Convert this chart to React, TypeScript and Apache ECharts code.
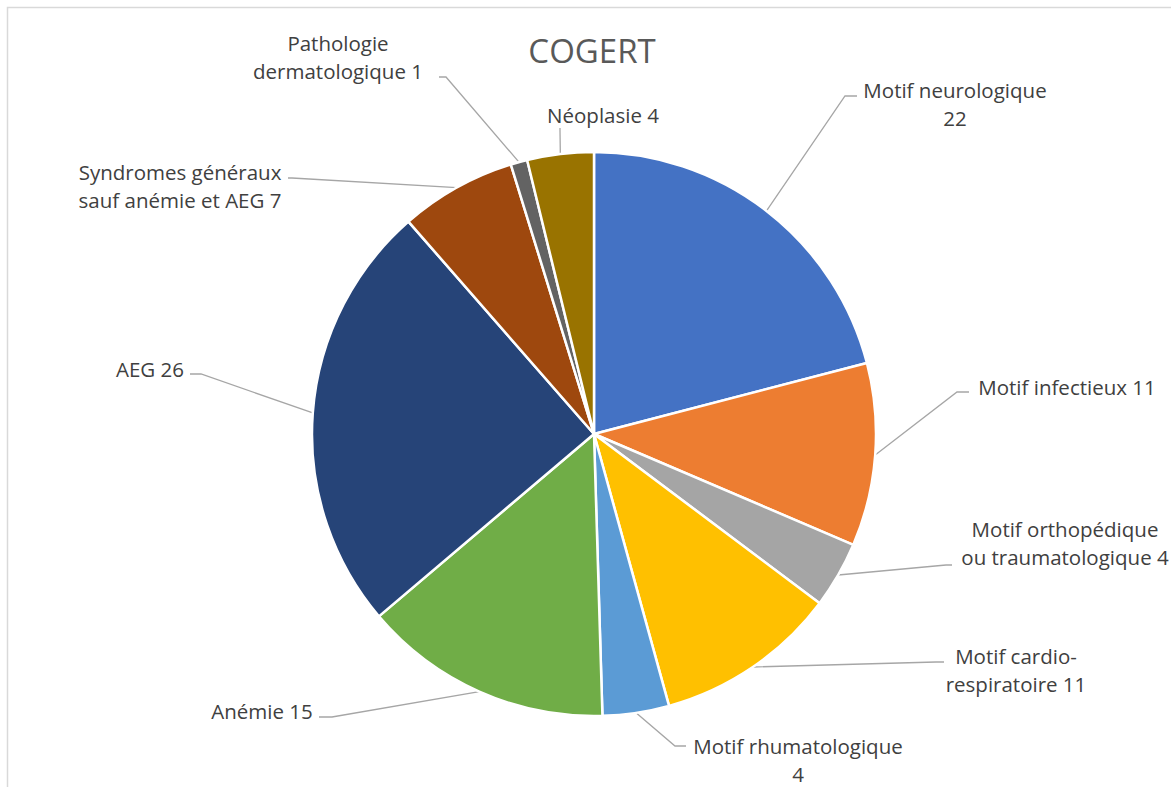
import React, { useEffect, useRef } from "react";
import * as echarts from "echarts";

const categories = [
  "Motif neurologique",
  "Motif infectieux",
  "Motif orthopédique\nou traumatologique",
  "Motif cardio-\nrespiratoire",
  "Motif rhumatologique",
  "Anémie",
  "AEG",
  "Syndromes généraux\nsauf anémie et AEG",
  "Pathologie\ndermatologique",
  "Néoplasie",
];
const values = [22, 11, 4, 11, 4, 15, 26, 7, 1, 4];
const valueSeparators = ["\n", " ", " ", " ", "\n", " ", " ", " ", " ", " "];
const colors = [
  "#4472C4", "#ED7D31", "#A5A5A5", "#FFC000", "#5B9BD5",
  "#70AD47", "#264478", "#9E480E", "#636363", "#997300",
];

// label placement: text centre, leader elbow, leader end
const labelPlacement = [
  { cx: 955, cy: 104, bx: 845, by: 96, ex: 857, ey: 96 },
  { cx: 1067, cy: 387, bx: 957, by: 392, ex: 969, ey: 392 },
  { cx: 1065, cy: 543, bx: 946, by: 565, ex: 952, ey: 565 },
  { cx: 1016, cy: 670, bx: 936, by: 662, ex: 944, ey: 662 },
  { cx: 798, cy: 760, bx: 675, by: 746, ex: 686, ey: 746 },
  { cx: 262, cy: 711, bx: 332, by: 717, ex: 319, ey: 717 },
  { cx: 150, cy: 369, bx: 201, by: 374, ex: 190, ey: 374 },
  { cx: 180, cy: 186, bx: 292, by: 178, ex: 288, ey: 178 },
  { cx: 338, cy: 57, bx: 446, by: 77, ex: 439, ey: 77 },
  { cx: 603, cy: 115, bx: 560, by: 131, ex: 560, ey: 128 },
];

export default function App() {
  const ref = useRef<HTMLDivElement>(null);
  useEffect(() => {
    if (!ref.current) return;
    const chart = echarts.init(ref.current, null, { renderer: "svg" });
    const font = "'Open Sans', sans-serif";
    chart.setOption({
      animation: false,
      backgroundColor: "#ffffff",
      title: {
        text: "COGERT",
        left: 587,
        top: 29,
        textAlign: "center",
        textStyle: {
          fontFamily: font,
          fontSize: 33,
          fontWeight: "normal",
          color: "#595959",
        },
      },
      graphic: [
        {
          type: "rect",
          shape: { x: 7.5, y: 7.5, width: 1400, height: 1000 },
          style: { fill: "none", stroke: "#d9d9d9", lineWidth: 1.5 },
          silent: true,
        },
      ],
      series: [
        {
          type: "pie",
          center: [594, 434],
          radius: 282,
          startAngle: 90,
          clockwise: true,
          avoidLabelOverlap: false,
          data: categories.map((name, i) => ({
            name,
            value: values[i],
            itemStyle: { color: colors[i] },
          })),
          itemStyle: { borderColor: "#ffffff", borderWidth: 2.5 },
          label: {
            show: true,
            position: "outside",
            fontFamily: font,
            fontSize: 20.5,
            lineHeight: 28,
            color: "#404040",
            align: "center",
            formatter: (p: any) =>
              `${p.name}${valueSeparators[p.dataIndex]}${p.value}`,
          },
          labelLine: {
            show: true,
            length: 10,
            length2: 10,
            lineStyle: { color: "#a6a6a6", width: 1.3 },
          },
          labelLayout: (params: any) => {
            const lp = labelPlacement[params.dataIndex];
            const start =
              params.labelLinePoints && params.labelLinePoints[0]
                ? params.labelLinePoints[0]
                : [lp.bx, lp.by];
            return {
              x: lp.cx,
              y: lp.cy,
              align: "center",
              verticalAlign: "middle",
              labelLinePoints: [
                [start[0], start[1]],
                [lp.bx, lp.by],
                [lp.ex, lp.ey],
              ],
            };
          },
        },
      ],
    });
    return () => chart.dispose();
  }, []);
  return (
    <div
      ref={ref}
      style={{
        position: "absolute",
        left: 0,
        top: 0,
        width: 1171,
        height: 787,
        background: "#ffffff",
      }}
    />
  );
}
